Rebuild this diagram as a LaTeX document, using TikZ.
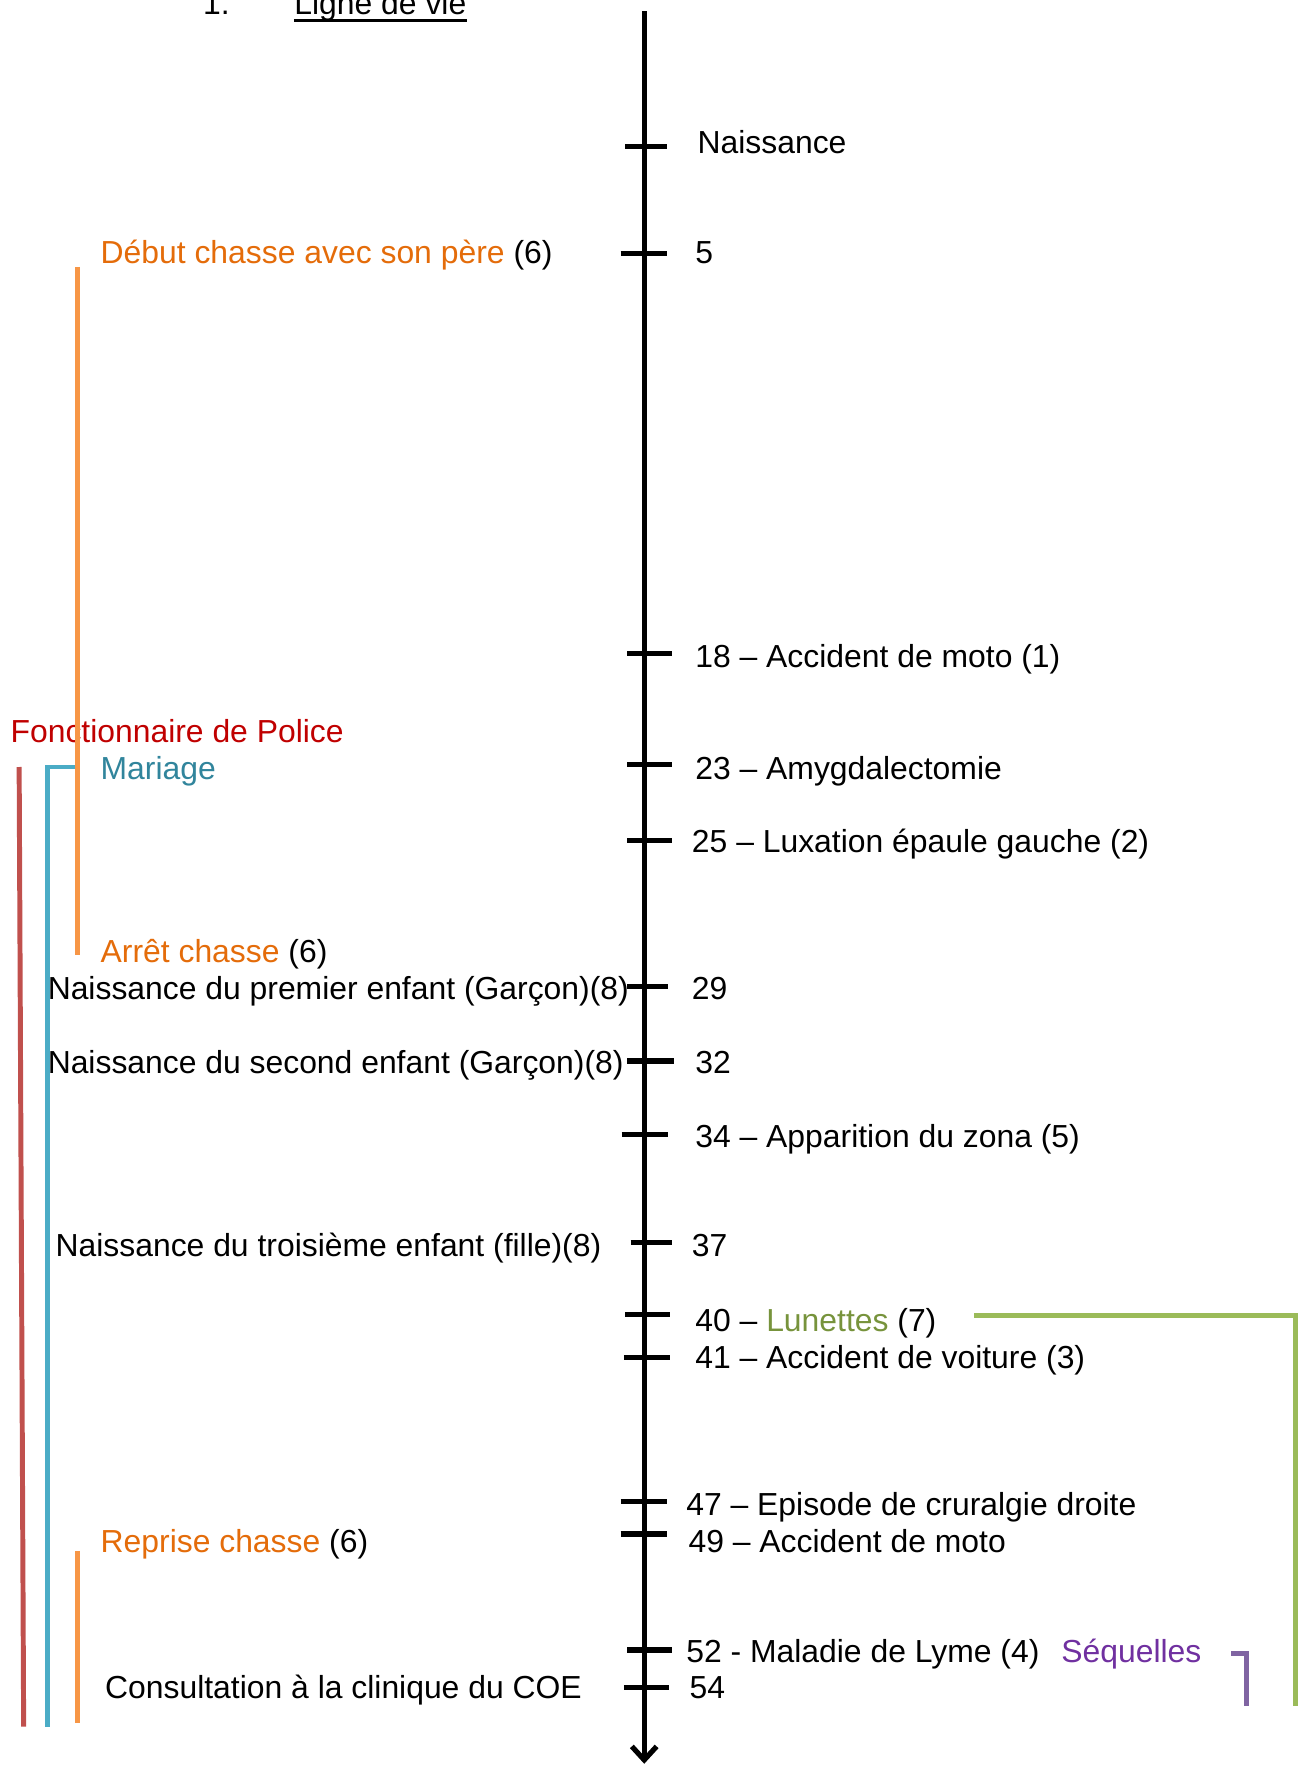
\documentclass[tikz,border=0pt]{standalone}
\usepackage{fontspec}
\setmainfont{Liberation Sans}
\usetikzlibrary{arrows.meta}
\definecolor{otxt}{RGB}{228,108,10}
\definecolor{oline}{RGB}{247,150,70}
\definecolor{rtxt}{RGB}{192,0,0}
\definecolor{rline}{RGB}{192,80,77}
\definecolor{btxt}{RGB}{49,133,156}
\definecolor{bline}{RGB}{75,172,198}
\definecolor{gtxt}{RGB}{119,147,60}
\definecolor{gline}{RGB}{155,187,89}
\definecolor{ptxt}{RGB}{112,48,160}
\definecolor{pline}{RGB}{128,100,162}
\begin{document}
\begin{tikzpicture}[x=0.5pt,y=-0.5pt,
  lbl/.style={inner sep=0pt, anchor=base west, font=\fontsize{14.15}{16}\selectfont},
  lblr/.style={lbl, anchor=base east},
  tickmark/.style={line width=2.3pt},
  axis/.style={line width=2.3pt},
  brk/.style={line width=2.2pt}]
\useasboundingbox (0,0) rectangle (1161,1568);

% title
\node[lbl] (num) at (180,13) {1.};
\node[lbl] (title) at (261,13) {Ligne de vie};
\draw[line width=1.4pt] (title.base west) ++(0,5) -- ([yshift=-2.5pt]title.base east);

% axis
\coordinate (axtop) at (572,10);
\coordinate (axbot) at (572,1566);
\draw[axis,-{Straight Barb[length=6pt,width=11pt,line width=2.3pt]}] (axtop) -- (axbot);

% ticks
\foreach \y/\a/\b in {130/555/592, 225/551/592, 580/557/597, 679/557/597, 746/557/597,
  876/557/593, 942/557/598, 1007/552/593, 1103/560/597, 1167/555/595, 1205/554/595,
  1333/551/592, 1362/551/592, 1465/557/597, 1498/554/594}
  \draw[tickmark] (\a,\y) -- (\b,\y);

% right labels
\node[lbl] (r0) at (619,136) {Naissance};
\node[lbl] (r5) at (617,234) {5};
\node[lbl] (r18) at (617,593) {18 – Accident de moto (1)};
\node[lbl] (r23) at (617,692) {23 – Amygdalectomie};
\node[lbl] (r25) at (614,757) {25 – Luxation épaule gauche (2)};
\node[lbl] (r29) at (614,887) {29};
\node[lbl] (r32) at (617,953) {32};
\node[lbl] (r34) at (617,1019) {34 – Apparition du zona (5)};
\node[lbl] (r37) at (614,1116) {37};
\node[lbl] (r40) at (617,1182) {40 – \textcolor{gtxt}{Lunettes} (7)};
\node[lbl] (r41) at (617,1215) {41 – Accident de voiture (3)};
\node[lbl] (r47) at (609,1346) {47 – Episode de cruralgie droite};
\node[lbl] (r49) at (611,1378) {49 – Accident de moto};
\node[lbl] (r52) at (609,1476) {52 - Maladie de Lyme (4)};
\node[lbl, text=ptxt] (seq) at (942,1476) {Séquelles};
\node[lbl] (r54) at (612,1508) {54};

% left labels
\node[lbl] (debut) at (89,234) {\textcolor{otxt}{Début chasse avec son père} (6)};
\node[lbl, text=rtxt] (police) at (9,659) {Fonctionnaire de Police};
\node[lbl, text=btxt] (mariage) at (89,692) {Mariage};
\node[lbl] (arret) at (89,855) {\textcolor{otxt}{Arrêt chasse} (6)};
\node[lbl] (enf1) at (42,887) {Naissance du premier enfant (Garçon)(8)};
\node[lbl] (enf2) at (42,953) {Naissance du second enfant (Garçon)(8)};
\node[lbl] (enf3) at (49,1116) {Naissance du troisième enfant (fille)(8)};
\node[lbl] (reprise) at (89,1378) {\textcolor{otxt}{Reprise chasse} (6)};
\node[lbl] (coe) at (93,1508) {Consultation à la clinique du COE};

% brackets
\draw[brk, oline] (69,237) -- (69,848);
\draw[brk, oline] (69,1377) -- (69,1530);
\draw[brk, bline] (67,681) -- (42,681) -- (42,1533);
\draw[brk, rline] (17,681) -- (21,1533);
\draw[brk, gline] (865,1168) -- (1150,1168) -- (1150,1515);
\draw[brk, pline] (1093,1468) -- (1107,1468) -- (1107,1515);
\end{tikzpicture}
\end{document}
